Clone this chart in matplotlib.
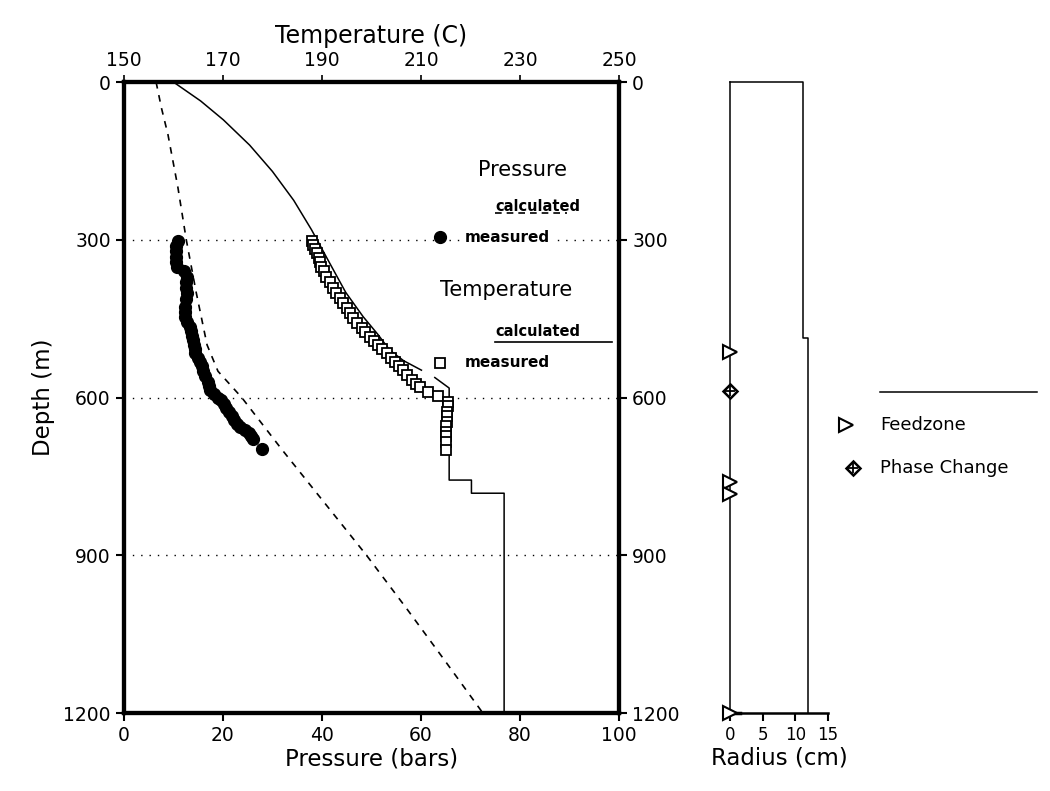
import matplotlib
matplotlib.use("Agg")
import matplotlib.pyplot as plt

plt.rcParams["font.family"] = ["DejaVu Sans"]

# measured pressure (bars) vs depth (m)
p_meas_depth = [303, 312, 322, 332, 342, 351, 360, 370, 381, 392, 402, 413, 427, 437, 446,
                456, 465, 474, 483, 491, 500, 508, 516, 524, 533, 541, 550, 560, 570, 578,
                586, 593, 600, 605, 612, 620, 627, 635, 642, 650, 656, 662, 668, 674, 678, 697]
p_meas = [11.0, 10.6, 10.5, 10.6, 10.6, 10.8, 12.2, 12.7, 12.6, 12.6, 12.7, 12.5, 12.4, 12.4, 12.3,
          12.8, 13.3, 13.6, 13.8, 14.0, 14.1, 14.3, 14.3, 14.9, 15.3, 15.7, 16.0, 16.4, 16.9, 17.2,
          17.4, 18.2, 19.1, 19.6, 20.2, 20.7, 21.3, 21.8, 22.3, 22.8, 23.5, 24.4, 25.2, 25.7, 26.1, 27.8]

# calculated pressure
p_calc_depth = [0, 50, 100, 200, 300, 400, 500, 550, 600, 700, 800, 900, 1000, 1100, 1200]
p_calc = [6.5, 7.6, 8.9, 10.9, 12.6, 14.6, 16.8, 19.0, 23.8, 32.0, 40.5, 49.0, 57.0, 64.8, 72.5]

# measured temperature (C)
t_meas_depth = [303, 310, 318, 326, 334, 342, 351, 360, 370, 381, 392, 401, 411, 420, 430,
                440, 449, 458, 468, 476, 484, 492, 500, 508, 516, 524, 532, 540, 548, 558,
                567, 574, 580, 589, 598, 608, 617, 627, 636, 646, 655, 665, 674, 684, 700]
t_meas = [187.9, 188.2, 188.6, 189.0, 189.4, 189.6, 189.9, 190.4, 190.9, 191.6, 192.3, 192.9, 193.6, 194.3, 195.0,
          195.6, 196.3, 197.1, 198.0, 198.8, 199.7, 200.5, 201.4, 202.2, 203.1, 203.9, 204.7, 205.5, 206.4, 207.2,
          208.1, 209.0, 209.8, 211.5, 213.5, 215.5, 215.5, 215.3, 215.3, 215.2, 215.0, 215.0, 215.0, 215.0, 215.0]

# calculated temperature, two pieces
t_calc1_depth = [0, 36, 72, 120, 170, 225, 281, 345, 400, 446, 480, 510, 530, 548]
t_calc1 = [160.0, 165.5, 170.1, 175.4, 180.0, 184.3, 187.9, 191.6, 194.8, 198.3, 201.3, 203.7, 206.5, 210.1]
t_calc2_depth = [562, 582, 757, 757, 782, 782, 1200]
t_calc2 = [212.8, 215.7, 215.7, 220.2, 220.2, 226.8, 226.8]

# well radius (cm)
radius_depth = [0, 0, 487, 487, 1200]
radius = [0, 11.1, 11.1, 11.9, 11.9]
feedzone_depth = [513, 761, 784, 1200]
phase_change_depth = [588]

fig = plt.figure(figsize=(10.5, 7.91), dpi=100)
ax = fig.add_axes([0.118, 0.0986, 0.4715, 0.7977])

for d in [300, 600, 900]:
    ax.axhline(d, color="black", lw=1.0, ls=(0, (1, 5)), zorder=1)

ax.plot(p_calc, p_calc_depth, color="black", lw=1.2, ls=(0, (4, 4)), zorder=2)
ax.plot(p_meas, p_meas_depth, "o", color="black", ms=8.5, zorder=3)

ax.set_xlim(0, 100)
ax.set_ylim(1200, 0)
ax.set_xticks([0, 20, 40, 60, 80, 100])
ax.set_yticks([0, 300, 600, 900, 1200])
ax.tick_params(axis="both", direction="out", length=6, width=1.5, labelsize=13.5,
               right=True, labelright=True)
ax.set_xlabel("Pressure (bars)", fontsize=16.5, labelpad=2)
ax.set_ylabel("Depth (m)", fontsize=16.5, labelpad=6)
for s in ax.spines.values():
    s.set_linewidth(3)

ax2 = ax.twiny()
ax2.set_xlim(150, 250)
ax2.set_xticks([150, 170, 190, 210, 230, 250])
ax2.tick_params(axis="x", direction="out", length=5, width=1.2, labelsize=13.5)
ax2.set_xlabel("Temperature (C)", fontsize=17, labelpad=6)
ax2.plot(t_calc1, t_calc1_depth, color="black", lw=1.1, zorder=2)
ax2.plot(t_calc2, t_calc2_depth, color="black", lw=1.1, zorder=2)
ax2.plot(t_meas, t_meas_depth, "s", mfc="white", mec="black", mew=1.3, ms=7.5, zorder=3)
for s in ax2.spines.values():
    s.set_linewidth(3)

# legend drawn by hand inside the main panel
wb = dict(facecolor="white", edgecolor="none", pad=1)
ax.text(71.5, 167, "Pressure", fontsize=15, va="center", ha="left", bbox=wb, zorder=4)
ax.text(75, 236, "calculated", fontsize=10.5, fontweight="bold", va="center", ha="left", zorder=4)
ax.plot([75, 89.5], [250, 250], color="black", lw=1.2, ls=(0, (4, 3)), zorder=4)
ax.plot([63.8], [295], "o", color="black", ms=8.5, zorder=5)
ax.text(68.9, 295, "measured", fontsize=11, fontweight="bold", va="center", ha="left",
        bbox=wb, zorder=4)
ax.text(63.8, 396, "Temperature", fontsize=15, va="center", ha="left", bbox=wb, zorder=4)
ax.text(75, 475, "calculated", fontsize=10.5, fontweight="bold", va="center", ha="left", zorder=4)
ax.plot([75, 98.6], [494, 494], color="black", lw=1.2, zorder=4)
ax.plot([63.8], [534], "s", mfc="white", mec="black", mew=1.3, ms=7.5, zorder=5)
ax.text(68.9, 534, "measured", fontsize=11, fontweight="bold", va="center", ha="left",
        bbox=wb, zorder=4)

# radius panel
axr = fig.add_axes([0.6952, 0.0986, 0.0934, 0.7977])
axr.plot(radius, radius_depth, color="black", lw=1.1, clip_on=False)
axr.plot([0, 0], [0, 1200], color="black", lw=1.1, clip_on=False)
axr.plot([0, 1.5], [1200, 1200], color="black", lw=2.5, clip_on=False)
axr.plot([0] * len(feedzone_depth), feedzone_depth, ">", mfc="white", mec="black",
         mew=1.5, ms=10, ls="none", clip_on=False, zorder=4)
axr.plot([0] * len(phase_change_depth), phase_change_depth, "D", mfc="white", mec="black",
         mew=1.8, ms=7, ls="none", clip_on=False, zorder=4)
axr.plot([0] * len(phase_change_depth), phase_change_depth, "+", color="black",
         mew=1.3, ms=7, ls="none", clip_on=False, zorder=5)
axr.set_xlim(0, 15)
axr.set_ylim(1200, 0)
axr.set_xticks([0, 5, 10, 15])
axr.set_yticks([])
axr.tick_params(axis="x", direction="out", length=6, width=1.5, labelsize=12)
axr.set_xlabel("Radius (cm)", fontsize=16.5, labelpad=2)
for side in ["left", "right", "top"]:
    axr.spines[side].set_visible(False)
axr.spines["bottom"].set_linewidth(1.8)

# radius panel legend
fig.add_artist(plt.Line2D([880 / 1050, 1037 / 1050], [1 - 392 / 791, 1 - 392 / 791],
                          color="black", lw=1.1))
fig.lines.append(plt.Line2D([846 / 1050], [1 - 425 / 791], marker=">", mfc="white",
                            mec="black", mew=1.5, ms=10, transform=fig.transFigure))
fig.text(880 / 1050, 1 - 425 / 791, "Feedzone", fontsize=13, va="center", ha="left")
fig.lines.append(plt.Line2D([853 / 1050], [1 - 468 / 791], marker="D", mfc="white",
                            mec="black", mew=1.8, ms=7, transform=fig.transFigure))
fig.lines.append(plt.Line2D([853 / 1050], [1 - 468 / 791], marker="+", color="black",
                            mew=1.3, ms=7, transform=fig.transFigure))
fig.text(880 / 1050, 1 - 468 / 791, "Phase Change", fontsize=13, va="center", ha="left")

fig.savefig("out.png", dpi=100, facecolor="white")
